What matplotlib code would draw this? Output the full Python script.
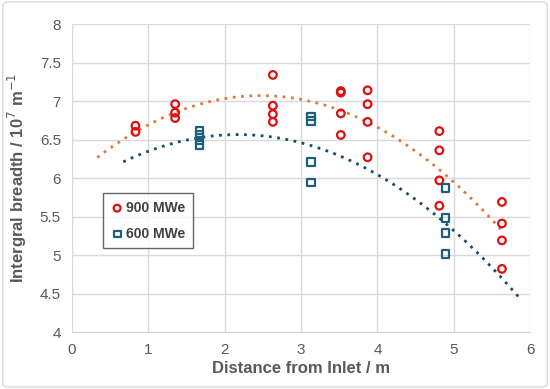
import numpy as np
import matplotlib
matplotlib.use("Agg")
import matplotlib.pyplot as plt
from matplotlib.patches import FancyBboxPatch

plt.rcParams['font.family'] = ['Liberation Sans', 'DejaVu Sans']

# 900 MWe (red circles)
x900 = [0.83, 0.83, 1.35, 1.35, 1.35, 2.63, 2.63, 2.63, 2.63,
        3.52, 3.52, 3.52, 3.52, 3.87, 3.87, 3.87, 3.87,
        4.81, 4.81, 4.81, 4.81, 5.63, 5.63, 5.63, 5.63]
y900 = [6.68, 6.60, 6.96, 6.85, 6.78, 7.34, 6.94, 6.83, 6.73,
        7.13, 7.11, 6.84, 6.56, 7.14, 6.96, 6.73, 6.27,
        6.61, 6.36, 5.97, 5.64, 5.69, 5.41, 5.19, 4.82]
# 600 MWe (blue squares)
x600 = [1.67, 1.67, 1.67, 1.67, 3.13, 3.13, 3.13, 3.13,
        4.89, 4.89, 4.89, 4.89]
y600 = [6.62, 6.56, 6.49, 6.43, 6.80, 6.74, 6.21, 5.94,
        5.87, 5.48, 5.29, 5.01]

xticks = [0, 1, 2, 3, 4, 5, 6]
yticks = [4, 4.5, 5, 5.5, 6, 6.5, 7, 7.5, 8]

red = '#e01010'
blue = '#1f5f7a'
orange = '#e07a3a'
darkblue = '#174e66'
gray = '#595959'

fig = plt.figure(figsize=(5.5, 3.89), dpi=100)
ax = fig.add_axes([0.131, 0.1465, 0.833, 0.7915])

# trendlines (2nd order polynomial fits)
c900 = np.polyfit(x900, y900, 2)
xt = np.linspace(min(x900) - 0.5, max(x900), 200)
ax.plot(xt, np.polyval(c900, xt), linestyle=(0, (1, 2)), color=orange, lw=2.0, zorder=2)
c600 = np.polyfit(x600, y600, 2)
xt2 = np.linspace(min(x600) - 1.0, max(x600) + 1.0, 200)
ax.plot(xt2, np.polyval(c600, xt2), linestyle=(0, (1, 2)), color=darkblue, lw=2.0, zorder=2)

ax.scatter(x900, y900, s=30, marker='o', facecolors='none', edgecolors=red, linewidths=1.6, zorder=3, label='900 MWe')
ax.scatter(x600, y600, s=30, marker='s', facecolors='none', edgecolors=blue, linewidths=1.6, zorder=3, label='600 MWe')

ax.set_xlim(0, 6)
ax.set_ylim(4, 8)
ax.set_xticks(xticks)
ax.set_yticks(yticks)
ax.set_yticklabels([f'{v:g}' for v in yticks])
ax.grid(True, color='#d9d9d9', lw=1.0)
ax.set_axisbelow(True)
for s in ['top', 'right', 'left']:
    ax.spines[s].set_visible(False)
ax.spines['bottom'].set_color('#d9d9d9')
ax.tick_params(length=0, labelsize=11, labelcolor=gray, pad=8)

ax.set_xlabel('Distance from Inlet / m', fontsize=12, fontweight='bold', color=gray, labelpad=3)
ax.set_ylabel('Intergral breadth / 10$^{7}$ m$^{-1}$', fontsize=12, fontweight='bold', color=gray, labelpad=8)

leg = ax.legend(loc='upper left', bbox_to_anchor=(0.068, 0.451), borderaxespad=0, frameon=True, fancybox=False,
                edgecolor='#404040', fontsize=10, handletextpad=0.2, borderpad=0.55,
                labelspacing=0.85, handlelength=0.9, scatterpoints=1, markerscale=0.9)
leg.get_frame().set_linewidth(1.0)
for t in leg.get_texts():
    t.set_color('#404040')
    t.set_fontweight('bold')

# outer chart border
border = FancyBboxPatch((0.005, 0.005), 0.99, 0.99, boxstyle='round,pad=0,rounding_size=0.01',
                        transform=fig.transFigure, fill=False, edgecolor='#d9d9d9', lw=1.0)
fig.patches.append(border)

fig.savefig('out.png', dpi=100)
